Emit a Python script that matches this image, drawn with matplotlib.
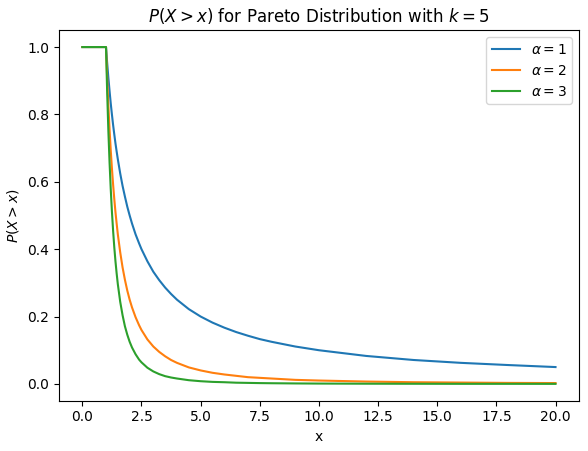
import matplotlib
matplotlib.use("Agg")
import matplotlib.pyplot as plt

# values
x = [0.0, 0.5, 1.0, 1.05, 1.1, 1.15, 1.2, 1.25, 1.3, 1.35, 1.4, 1.45, 1.5, 1.6, 1.7, 1.8, 1.9, 2.0,
     2.1, 2.25, 2.4, 2.5, 2.75, 3.0, 3.25, 3.5, 3.75, 4.0, 4.5, 5.0, 5.5, 6.0, 6.5, 7.0, 7.5, 8.0,
     9.0, 10.0, 12.0, 14.0, 16.0, 18.0, 20.0]
p_a1 = [1.0, 1.0, 1.0, 0.952, 0.909, 0.870, 0.833, 0.8, 0.769, 0.741, 0.714, 0.690, 0.667, 0.625,
        0.588, 0.556, 0.526, 0.5, 0.476, 0.444, 0.417, 0.4, 0.364, 0.333, 0.308, 0.286, 0.267, 0.25,
        0.222, 0.2, 0.182, 0.167, 0.154, 0.143, 0.133, 0.125, 0.111, 0.1, 0.083, 0.071, 0.0625, 0.056, 0.05]
p_a2 = [1.0, 1.0, 1.0, 0.907, 0.826, 0.756, 0.694, 0.64, 0.592, 0.549, 0.510, 0.476, 0.444, 0.391,
        0.346, 0.309, 0.277, 0.25, 0.227, 0.198, 0.174, 0.16, 0.132, 0.111, 0.095, 0.082, 0.071, 0.0625,
        0.049, 0.04, 0.033, 0.028, 0.024, 0.020, 0.018, 0.016, 0.012, 0.01, 0.007, 0.005, 0.004, 0.003, 0.0025]
p_a3 = [1.0, 1.0, 1.0, 0.864, 0.751, 0.658, 0.579, 0.512, 0.455, 0.406, 0.364, 0.328, 0.296, 0.244,
        0.204, 0.171, 0.146, 0.125, 0.108, 0.088, 0.072, 0.064, 0.048, 0.037, 0.029, 0.023, 0.019, 0.016,
        0.011, 0.008, 0.006, 0.005, 0.0036, 0.003, 0.0024, 0.002, 0.0014, 0.001, 0.0006, 0.0004, 0.0002,
        0.0002, 0.0001]
labels = [r'$\alpha = 1$', r'$\alpha = 2$', r'$\alpha = 3$']

fig, ax = plt.subplots(figsize=(5.88, 4.51), dpi=100)
fig.subplots_adjust(left=0.0998, right=0.985, top=0.933, bottom=0.1115)

for ys, lab in zip([p_a1, p_a2, p_a3], labels):
    ax.plot(x, ys, label=lab, linewidth=1.5)

ax.set_title(r'$P(X > x)$ for Pareto Distribution with $k = 5$')
ax.set_xlabel('x')
ax.set_ylabel(r'$P(X > x)$')
ax.set_xticks([0, 2.5, 5, 7.5, 10, 12.5, 15, 17.5, 20])
ax.legend(loc='upper right')

plt.savefig('out.png', dpi=100)
